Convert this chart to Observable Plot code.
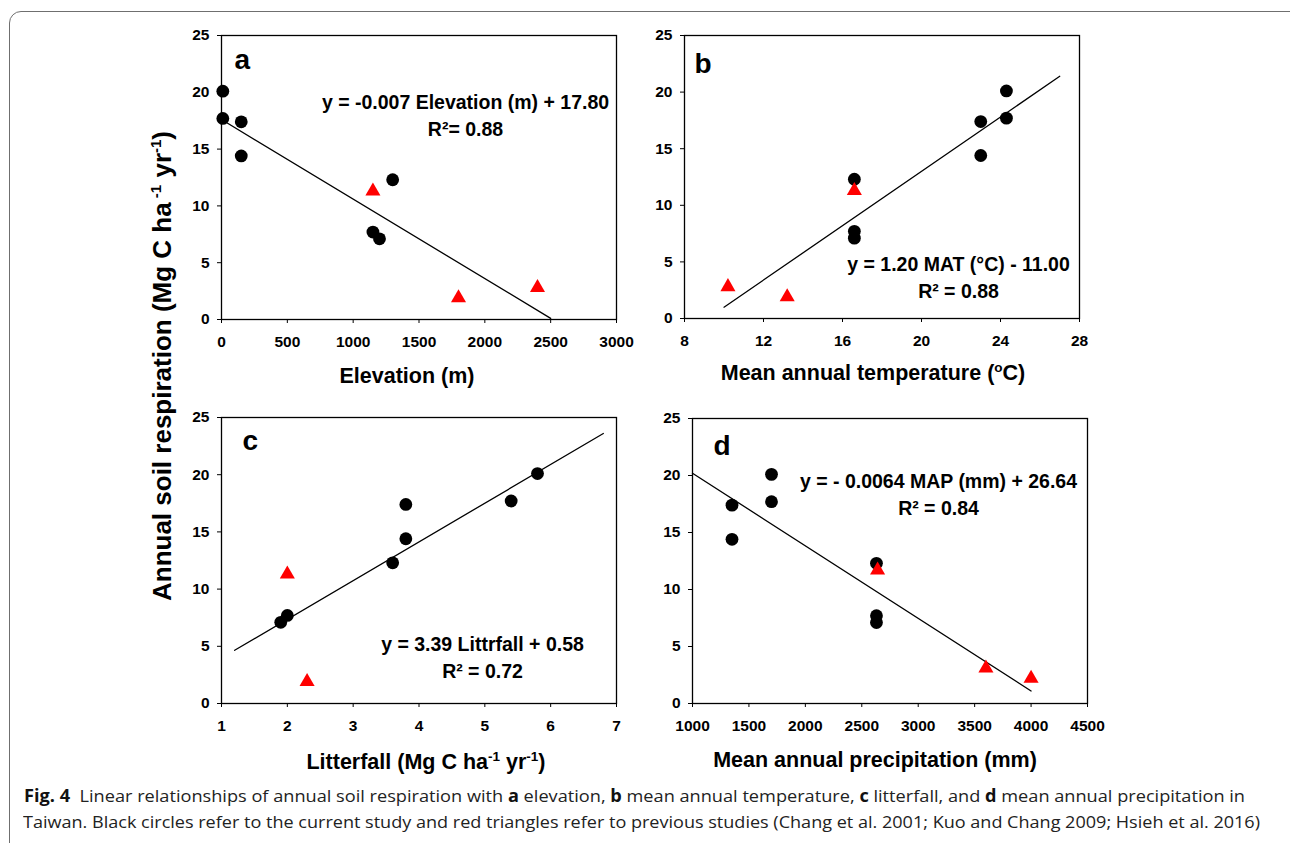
<!DOCTYPE html>
<html>
<head>
<meta charset="utf-8">
<script src="https://cdn.jsdelivr.net/npm/d3@7"></script>
<script src="https://cdn.jsdelivr.net/npm/@observablehq/plot@0.6"></script>
<style>
  html, body { margin: 0; padding: 0; background: #fff; }
  #page { position: relative; width: 1290px; height: 843px; overflow: hidden; background: #fff; }
  .frameBox { position: absolute; left: 9px; top: 11px; width: 1300px; height: 900px;
    border: 1.5px solid #6f6f6f; border-radius: 12px; box-sizing: border-box; }
  .panel { position: absolute; }
  .axlab { position: absolute; font-family: "Liberation Sans", Arial, sans-serif; font-weight: bold;
    font-size: 21.5px; color: #000; white-space: nowrap; transform: translate(-50%, -50%); }
  .axlab sup { font-size: 13.5px; vertical-align: 0; position: relative; top: -8px; }
  .ylab { position: absolute; left: 162px; top: 366px; font-family: "Liberation Sans", Arial, sans-serif;
    font-weight: bold; font-size: 26px; color: #000; white-space: nowrap;
    transform: translate(-50%, -50%) rotate(-90deg); }
  .ylab sup { font-size: 15px; vertical-align: 0; position: relative; top: -10px; }
  .cap { position: absolute; font-family: "Open Sans", "Noto Sans", sans-serif; font-size: 17px;
    color: #222; white-space: nowrap; transform-origin: left center; }
  .cap b { font-weight: bold; color: #111; }
</style>
</head>
<body>
<div id="page">
  <div class="frameBox"></div>
</div>
<script>
// ---------- data ----------
const yTicks = [0, 5, 10, 15, 20, 25];
const elevTicks = [0, 500, 1000, 1500, 2000, 2500, 3000];
const matTicks = [8, 12, 16, 20, 24, 28];
const litterTicks = [1, 2, 3, 4, 5, 6, 7];
const mapTicks = [1000, 1500, 2000, 2500, 3000, 3500, 4000, 4500];

// current study (black circles)
const circleResp   = [20.1, 17.7, 17.4, 14.4, 12.3, 7.7, 7.1];
const circleElev   = [10, 10, 150, 150, 1300, 1150, 1200];
const circleMAT    = [24.3, 24.3, 23.0, 23.0, 16.6, 16.6, 16.6];
const circleLitter = [5.8, 5.4, 3.8, 3.8, 3.6, 2.0, 1.9];
const circleMAP    = [1700, 1700, 1350, 1350, 2630, 2630, 2630];

// previous studies (red triangles)
const triElev = [1150, 1800, 2400];
const triElevResp = [11.3, 1.9, 2.8];
const triMAT = [16.6, 13.2, 10.2];
const triMATResp = [11.3, 1.9, 2.8];
const triLitter = [2.0, 2.3];
const triLitterResp = [11.3, 1.9];
const triMAP = [2640, 3600, 4000];
const triMAPResp = [11.7, 3.1, 2.2];

// regression line end points
const lineElevX = [0, 2500],   lineElevY = [17.6, 0.1];
const lineMATX = [10, 27],     lineMATY = [1.0, 21.4];
const lineLitterX = [1.2, 6.8], lineLitterY = [4.65, 23.6];
const lineMAPX = [1000, 4000], lineMAPY = [20.2, 1.1];

// equations
const eqElev = "y = -0.007 Elevation (m) + 17.80\nR²= 0.88";
const eqMAT = "y = 1.20 MAT (°C) - 11.00\nR² = 0.88";
const eqLitter = "y = 3.39 Littrfall + 0.58\nR² = 0.72";
const eqMAP = "y = - 0.0064 MAP (mm) + 26.64\nR² = 0.84";

// ---------- drawing ----------
const zip = (xs, ys) => xs.map((x, i) => ({x, y: ys[i]}));
const FONT = "'Liberation Sans', Arial, sans-serif";

function panel(o) {
  return Plot.plot({
    width: 455, height: o.h + 40,
    marginLeft: 40, marginRight: 20, marginTop: 10, marginBottom: 30,
    style: {fontFamily: FONT, fontSize: "15.5px", fontWeight: "bold", color: "#000", background: "transparent", overflow: "visible"},
    x: {domain: o.xDomain, ticks: o.xTicks, tickFormat: d3.format("d"), tickSize: 4, tickPadding: 12, label: null},
    y: {domain: [0, 25], ticks: yTicks, tickFormat: d3.format("d"), tickSize: 4, tickPadding: 8, label: null},
    marks: [
      Plot.frame({stroke: "#000", strokeWidth: 1.3}),
      Plot.line(zip(o.lineX, o.lineY), {x: "x", y: "y", stroke: "#000", strokeWidth: 1.3}),
      Plot.dot(zip(o.cx, o.cy), {x: "x", y: "y", r: 6.4, fill: "#000", stroke: "none"}),
      Plot.dot(zip(o.tx, o.ty), {x: "x", y: "y", r: 5.6, symbol: "triangle", fill: "#ff0000", stroke: "none"}),
      Plot.text([o.letter], {text: d => d, frameAnchor: "top-left", dx: o.ldx, dy: o.ldy,
        textAnchor: "start", lineAnchor: "bottom", fontSize: 28, fontWeight: "bold", fill: "#000"}),
      Plot.text([o.eq], {text: d => d, frameAnchor: "top-left", dx: o.edx, dy: o.edy,
        textAnchor: "middle", lineAnchor: "bottom", fontSize: 19.5, lineHeight: 1.35, fontWeight: "bold", fill: "#000"})
    ]
  });
}

const page = document.getElementById("page");
function place(svg, frameLeft, frameTop) {
  const d = document.createElement("div");
  d.className = "panel";
  d.style.left = (frameLeft - 40) + "px";
  d.style.top = (frameTop - 10) + "px";
  d.appendChild(svg);
  page.appendChild(d);
}

place(panel({h: 284, xDomain: [0, 3000], xTicks: elevTicks, cx: circleElev, cy: circleResp,
  tx: triElev, ty: triElevResp, lineX: lineElevX, lineY: lineElevY,
  letter: "a", ldx: 13, ldy: 33, eq: eqElev, edx: 244, edy: 100}), 221, 35);
place(panel({h: 283, xDomain: [8, 28], xTicks: matTicks, cx: circleMAT, cy: circleResp,
  tx: triMAT, ty: triMATResp, lineX: lineMATX, lineY: lineMATY,
  letter: "b", ldx: 10, ldy: 37, eq: eqMAT, edx: 274, edy: 262}), 684, 35);
place(panel({h: 286, xDomain: [1, 7], xTicks: litterTicks, cx: circleLitter, cy: circleResp,
  tx: triLitter, ty: triLitterResp, lineX: lineLitterX, lineY: lineLitterY,
  letter: "c", ldx: 21, ldy: 32, eq: eqLitter, edx: 261, edy: 260}), 221, 417);
place(panel({h: 285, xDomain: [1000, 4500], xTicks: mapTicks, cx: circleMAP, cy: circleResp,
  tx: triMAP, ty: triMAPResp, lineX: lineMAPX, lineY: lineMAPY,
  letter: "d", ldx: 21, ldy: 36, eq: eqMAP, edx: 246, edy: 96}), 692, 418);

// axis titles
function label(html, cls, x, y) {
  const d = document.createElement("div");
  d.className = cls;
  d.innerHTML = html;
  if (x != null) { d.style.left = x + "px"; d.style.top = y + "px"; }
  page.appendChild(d);
  return d;
}
label("Elevation (m)", "axlab", 407, 376);
label("Mean annual temperature (<sup>o</sup>C)", "axlab", 873, 373);
label("Litterfall (Mg C ha<sup>-1</sup> yr<sup>-1</sup>)", "axlab", 426, 762);
label("Mean annual precipitation (mm)", "axlab", 875, 760);
label("Annual soil respiration (Mg C ha<sup> -1</sup> yr<sup>-1</sup>)", "ylab");

// caption
const cap1 = label("<b>Fig. 4</b>&nbsp; Linear relationships of annual soil respiration with <b>a</b> elevation, <b>b</b> mean annual temperature, <b>c</b> litterfall, and <b>d</b> mean annual precipitation in", "cap", 24, 784);
const cap2 = label("Taiwan. Black circles refer to the current study and red triangles refer to previous studies (Chang et al. 2001; Kuo and Chang 2009; Hsieh et al. 2016)", "cap", 23, 810);
function fit(el, w) {
  const cur = el.getBoundingClientRect().width;
  el.style.transform = `scaleX(${w / cur})`;
}
fit(cap1, 1221);
fit(cap2, 1237);
</script>
</body>
</html>
